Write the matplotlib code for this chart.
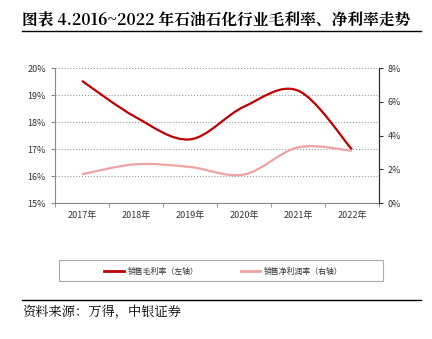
import numpy as np
import matplotlib.pyplot as plt
from matplotlib.path import Path
from matplotlib.patches import PathPatch, Rectangle
from matplotlib.ticker import PercentFormatter

plt.rcParams['font.family'] = ['Liberation Sans Narrow', 'Noto Sans CJK SC', 'DejaVu Sans']

# data
years = ['2017年', '2018年', '2019年', '2020年', '2021年', '2022年']
gross_margin = [19.53, 18.18, 17.36, 18.57, 19.17, 16.99]   # left axis, %
net_margin = [1.71, 2.30, 2.14, 1.69, 3.30, 3.10]          # right axis, %
labels = ['销售毛利率（左轴）', '销售净利润率（右轴）']


def smooth_path(xs, ys):
    # Excel style smoothed line: bezier segments through the data points
    xs = np.asarray(xs, float)
    ys = np.asarray(ys, float)
    px = np.concatenate([[xs[0]], xs, [xs[-1]]])
    py = np.concatenate([[ys[0]], ys, [ys[-1]]])
    verts = [(xs[0], ys[0])]
    codes = [Path.MOVETO]
    for i in range(1, len(xs)):
        c1 = (px[i] + (px[i + 1] - px[i - 1]) / 6, py[i] + (py[i + 1] - py[i - 1]) / 6)
        c2 = (px[i + 1] - (px[i + 2] - px[i]) / 6, py[i + 1] - (py[i + 2] - py[i]) / 6)
        verts += [c1, c2, (xs[i], ys[i])]
        codes += [Path.CURVE4] * 3
    return Path(verts, codes)


fig = plt.figure(figsize=(4.32, 3.39), dpi=100)
ax = fig.add_axes([0.127, 0.401, 0.75, 0.398])
ax2 = ax.twinx()

x = np.arange(len(years))
red = '#C00000'
pink = '#EDA3A3'
ax.add_patch(PathPatch(smooth_path(x, gross_margin), fill=False, edgecolor=red, lw=1.6, zorder=3))
ax2.add_patch(PathPatch(smooth_path(x, net_margin), fill=False, edgecolor=pink, lw=1.6, zorder=3))

ax.set_xlim(-0.5, len(years) - 0.5)
ax.set_ylim(15, 20)
ax2.set_ylim(0, 8)
ax.set_yticks(np.arange(15, 21, 1))
ax2.set_yticks(np.arange(0, 9, 2))
ax.yaxis.set_major_formatter(PercentFormatter(decimals=0))
ax2.yaxis.set_major_formatter(PercentFormatter(decimals=0))

ax.set_xticks(x)
ax.set_xticklabels(years)
ax.set_xticks(np.arange(-0.5, len(years)), minor=True)
ax.tick_params(axis='x', which='major', length=0, labelsize=6.5, pad=6, colors='#333333')
ax.tick_params(axis='x', which='minor', length=3, color='#888888')
ax.tick_params(axis='y', labelsize=6.5, length=3, color='#888888', labelcolor='#333333')
ax2.tick_params(axis='y', labelsize=6.5, length=3, color='#333333', labelcolor='#333333')

ax.grid(axis='y', color='#999999', linestyle=':', linewidth=0.8)
ax.set_axisbelow(True)
for a in (ax, ax2):
    a.spines['top'].set_visible(False)
    a.spines['left'].set_color('#888888')
    a.spines['bottom'].set_color('#888888')
ax2.spines['right'].set_color('#333333')
ax2.spines['left'].set_visible(False)
ax2.spines['bottom'].set_visible(False)

# legend box drawn by hand so the entries sit where they do in the original
W, H = 432.0, 339.0
fig.add_artist(Rectangle((59 / W, 1 - 281 / H), 324 / W, 21 / H, transform=fig.transFigure,
                         fill=False, edgecolor='#aaaaaa', lw=0.8))
yl = 1 - 271 / H
for (x0, x1), col, lab in zip([(104, 124), (241, 260)], [red, pink], labels):
    fig.add_artist(plt.Line2D([x0 / W, x1 / W], [yl, yl], color=col, lw=2))
    fig.text((x1 + 4) / W, yl, lab, fontsize=5.7, family=['Noto Sans CJK SC'],
             va='center', ha='left', color='#333333')

# title, rules, source
fig.text(0.051, 0.94, '图表 4.2016~2022 年石油石化行业毛利率、净利率走势',
         fontsize=11.3, fontweight='bold', family=['Noto Serif CJK SC', 'Noto Sans CJK SC'],
         va='center', ha='left')
fig.add_artist(plt.Line2D([0.051, 0.975], [0.908, 0.908], color='black', lw=1))
fig.add_artist(plt.Line2D([0.051, 0.975], [0.115, 0.115], color='black', lw=1))
fig.text(0.051, 0.08, '资料来源：万得，中银证券', fontsize=9.5,
         family=['Noto Serif CJK SC', 'Noto Sans CJK SC'], va='center', ha='left')

fig.savefig('out.png', dpi=100)
